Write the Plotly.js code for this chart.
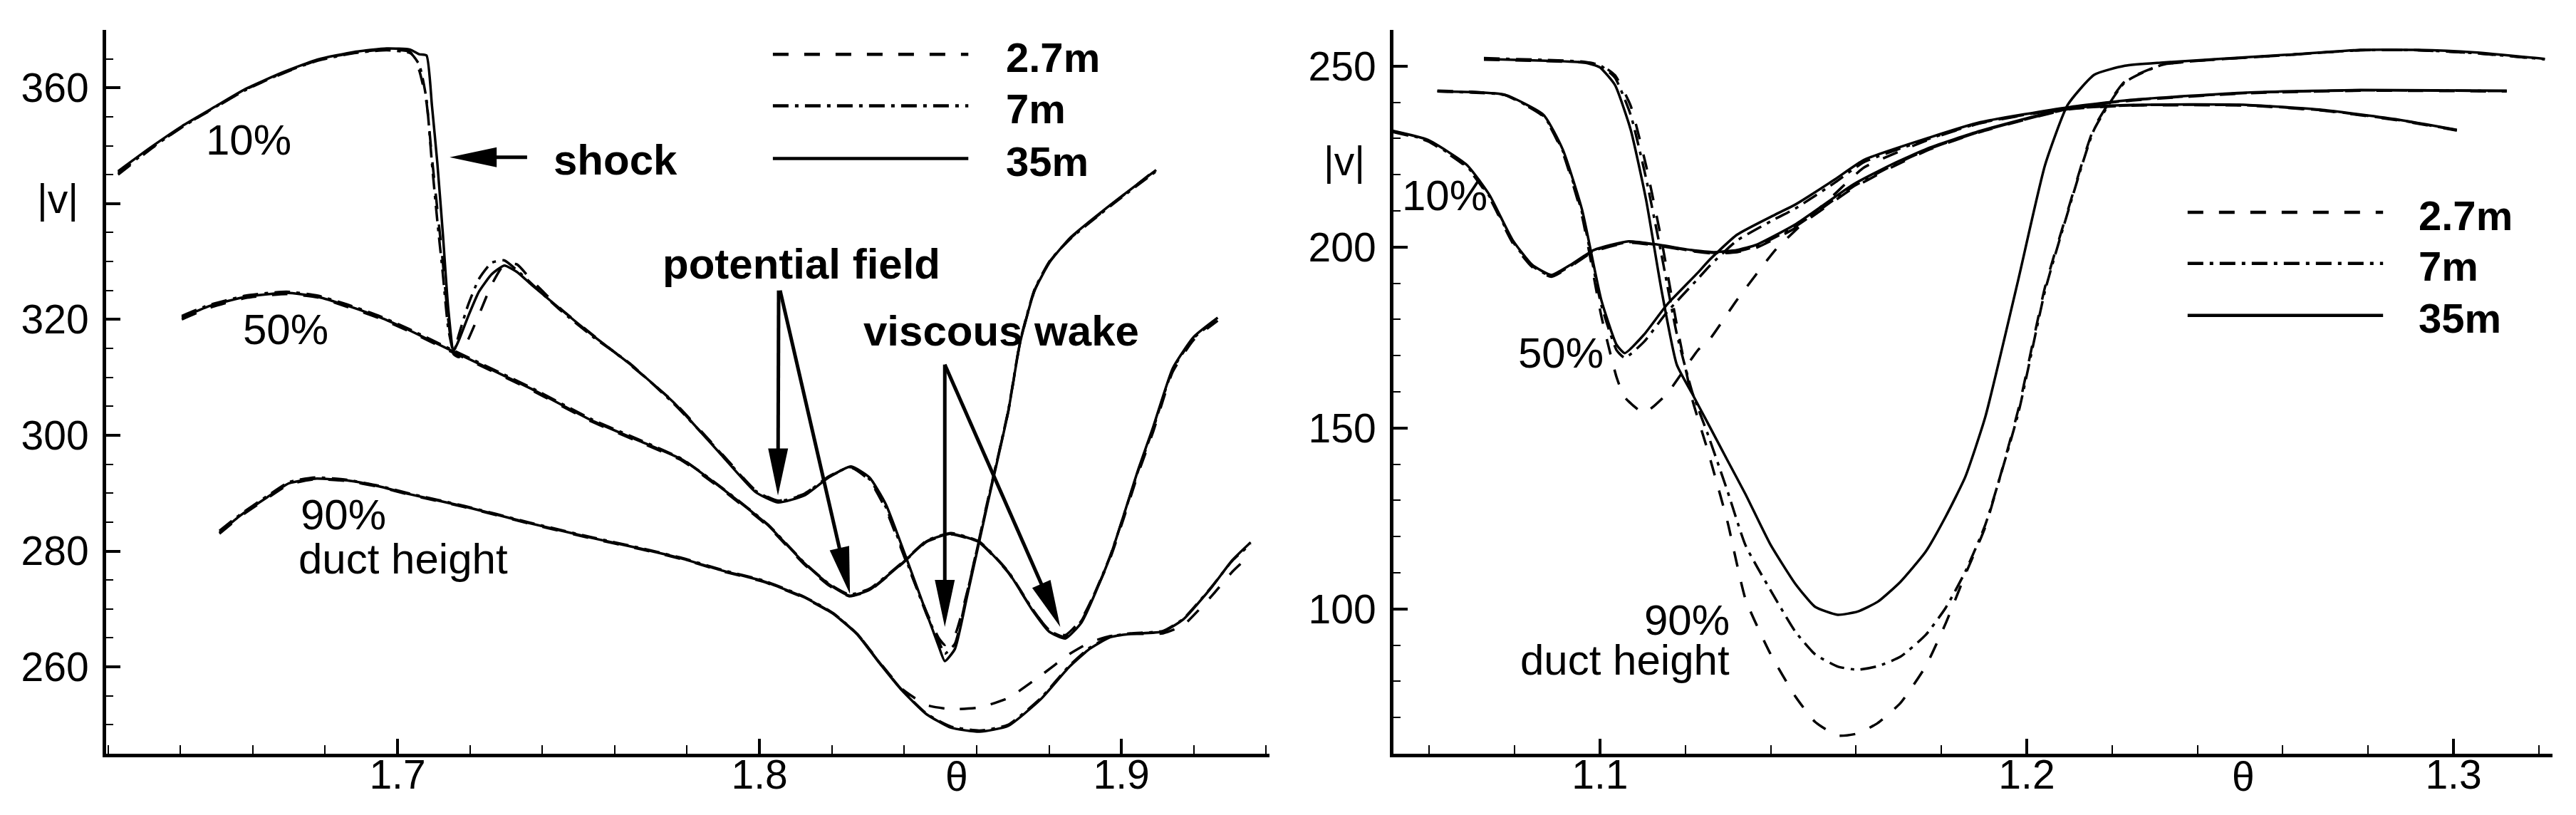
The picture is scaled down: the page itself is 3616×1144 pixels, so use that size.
<!DOCTYPE html>
<html>
<head>
<meta charset="utf-8">
<script src="https://cdn.plot.ly/plotly-3.0.1.min.js"></script>
<style>html,body{margin:0;padding:0;background:#fff;}#chart{width:3616px;height:1144px;}</style>
</head>
<body>
<div id="chart"></div>
<script>
// ---------------- LEFT PANEL DATA (theta, |v|) ----------------
const thL10 = [1.6228,1.632,1.641,1.650,1.658,1.668,1.678,1.688,1.697,1.7035,1.706,1.708,1.7095,1.711,1.7125,1.714,1.7155,1.717,1.7195,1.7225,1.726,1.7295,1.733,1.737,1.745,1.754,1.7642,1.7764,1.7899,1.7989,1.8051,1.8124,1.8191,1.8253,1.8304,1.8349,1.8405,1.8462,1.8495,1.8512,1.854,1.8574,1.863,1.8687,1.872,1.876,1.8803,1.886,1.8972,1.9096];
const vL10_35 = [345.6,349.8,353.6,356.9,359.8,362.6,364.9,366.2,366.8,366.6,365.8,365.6,357,347,335,322,314.6,316.5,320.5,324.8,327.8,329.3,328.2,326,321.8,317.2,312.3,305.6,296.3,290.2,288.4,289.6,292.7,294.6,292.7,288.1,278.9,269.2,263.6,261.0,263.1,272.3,288.1,304,316,325,330,334.2,339.9,345.8];
const vL10_7 = [345.3,349.6,353.4,356.8,359.6,362.5,364.7,366.0,366.5,366.0,364.0,358.0,347.0,337.0,328.0,318.5,314.4,317.5,322.5,327.0,329.8,330.2,328.5,326.2,321.6,317.0,312.4,305.4,296.5,290.4,288.6,289.8,292.9,294.5,292.4,287.6,278.5,269.0,264.5,262.3,264.0,272.8,288.4,304.2,316.2,325.2,330.2,334.0,339.7,345.6];
const vL10_27 = [345.0,349.5,353.5,356.7,359.7,362.4,364.8,366.1,366.6,366.2,363.0,357.5,348.0,339.0,330.0,320.0,314.0,313.5,316.5,320.8,326.0,329.5,329.5,326.8,321.9,317.3,312.2,305.7,296.6,290.5,288.7,289.9,292.8,294.4,292.2,287.2,278.2,269.4,265.0,263.8,265.5,273.0,288.6,304.0,316.0,325.0,330.1,334.1,339.8,345.9];

const thL50 = [1.6404,1.648,1.658,1.6693,1.678,1.686,1.695,1.703,1.7156,1.737,1.7535,1.7673,1.7786,1.7899,1.8023,1.8124,1.8191,1.8248,1.8304,1.8394,1.8462,1.8529,1.8608,1.8687,1.8755,1.88,1.8845,1.889,1.8968,1.9047,1.9087,1.9142,1.92,1.9266];
const vL50_35 = [320.3,322.3,323.9,324.6,323.9,322.4,320.4,318.2,314.4,308.0,302.6,298.9,295.8,290.7,284.5,277.9,274.3,272.3,273.3,277.9,281.7,283.0,281.5,276.4,269.7,266.1,264.9,267.7,278.9,294.2,301.3,311.6,317.0,320.3];
const vL50_7 = [320.6,322.5,324.1,324.8,324.1,322.6,320.6,318.4,314.6,308.2,302.8,299.1,295.9,290.8,284.6,278.0,274.4,272.5,273.5,278.0,281.8,283.1,281.6,276.5,269.9,266.3,265.2,268.0,279.0,294.0,301.0,311.4,316.8,320.1];
const vL50_27 = [320.0,322.0,323.7,324.4,323.8,322.2,320.2,318.0,314.2,307.8,302.4,298.7,295.6,290.5,284.3,277.7,274.1,272.2,273.2,277.8,281.6,282.9,281.4,276.3,269.8,266.4,265.5,268.3,278.6,293.5,300.5,311.0,316.5,319.8];

const thL90 = [1.6508,1.6569,1.664,1.670,1.6772,1.686,1.6947,1.7035,1.7185,1.736,1.7535,1.7673,1.7786,1.7899,1.8011,1.8124,1.8203,1.827,1.8327,1.8394,1.8462,1.8529,1.8608,1.8687,1.8777,1.8856,1.8912,1.8968,1.9025,1.9115,1.9171,1.925,1.9306,1.9357];
const vL90_35 = [283.2,286.3,289.3,291.7,292.5,292.2,291.2,289.8,287.7,284.9,282.3,280.4,278.7,276.6,274.8,272.0,269.2,265.6,261.0,255.9,251.8,249.5,248.8,249.8,254.4,260.0,263.1,265.1,265.7,266.1,268.2,273.8,278.4,281.5];
const vL90_7 = [283.5,286.5,289.5,291.9,292.7,292.3,291.3,289.9,287.8,285.0,282.4,280.5,278.8,276.7,274.9,272.1,269.3,265.7,261.1,256.0,251.9,249.7,249.0,250.0,254.6,260.2,263.3,265.2,265.8,266.2,268.3,273.9,278.3,281.2];
const vL90_27 = [283.0,286.1,289.1,291.5,292.4,292.1,291.1,289.7,287.6,284.8,282.2,280.3,278.6,276.5,274.7,271.9,269.2,265.7,261.2,256.2,253.4,252.7,253.0,254.6,258.5,262.2,264.2,265.3,265.7,265.8,267.2,272.3,276.4,279.4];

// ---------------- RIGHT PANEL DATA ----------------
const thR10 = [1.0515,1.0597,1.0688,1.0741,1.0795,1.0841,1.0886,1.0931,1.0986,1.1067,1.114,1.1212,1.1266,1.1321,1.1366,1.1457,1.1592,1.1683,1.1773,1.1891,1.2096,1.2248,1.2515,1.2693,1.2871,1.3008];
const vR10_35 = [232.1,229.6,222.7,214.4,202.0,195.1,192.3,195.1,199.2,201.6,200.6,199.2,198.6,199.2,200.6,206.2,217.2,222.8,227.5,232.1,238.3,239.3,239.3,237.9,235.2,232.4];
const vR10_7 = [232.0,229.4,222.3,214.0,201.6,194.8,192.0,194.8,199.0,201.4,200.5,199.0,198.4,198.8,200.2,205.6,216.6,222.4,227.2,231.9,238.1,239.2,239.2,237.8,235.1,232.3];
const vR10_27 = [231.8,229.2,222.0,213.6,201.2,194.5,191.8,194.6,198.8,201.2,200.3,198.9,198.2,198.6,199.8,205.2,216.2,222.0,227.0,231.8,238.0,239.1,239.1,237.7,235.0,232.2];

const thR50 = [1.0619,1.07,1.0777,1.0868,1.0913,1.0958,1.1003,1.1039,1.1058,1.1103,1.1157,1.123,1.1257,1.1321,1.1411,1.1457,1.1548,1.1619,1.1773,1.1891,1.2096,1.2248,1.2515,1.2782,1.3125];
const vR50_35 = [243.0,242.8,242.1,236.5,226.9,210.3,185.4,173.0,170.7,175.8,184.1,193.0,196.5,203.4,209.0,211.7,218.5,224.1,230.3,234.5,238.6,240.7,242.7,243.4,243.2];
const vR50_7 = [243.0,242.7,242.0,236.2,226.5,209.5,184.0,171.5,169.4,173.8,182.0,191.3,194.8,201.8,207.8,210.6,217.6,223.5,230.0,234.3,238.5,240.6,242.6,243.3,243.1];
const vR50_27 = [243.2,242.9,242.0,236.0,226.0,208.5,181.0,164.0,158.5,154.2,159.5,171.6,174.5,185.4,199.2,204.5,214.4,222.0,229.8,234.2,238.4,240.5,242.5,243.2,243.0];

const thR90 = [1.0728,1.0873,1.0963,1.0999,1.1035,1.1072,1.1108,1.1144,1.118,1.1216,1.1252,1.1299,1.1341,1.1399,1.1458,1.1504,1.1557,1.1604,1.1651,1.1704,1.1763,1.181,1.1856,1.1903,1.198,1.2043,1.2096,1.2158,1.223,1.2319,1.2604,1.2782,1.2915,1.3049,1.3214];
const vR90_35 = [252.0,251.5,251.0,249.7,244.8,232.4,213.1,188.2,167.5,159.5,151.5,141.0,131.7,117.9,106.9,100.6,98.4,99.3,102.0,107.5,115.8,125.5,136.5,153.1,190.9,222.7,239.3,247.6,250.1,251.0,253.1,254.5,254.5,253.8,252.0];
const vR90_7 = [252.2,251.7,251.2,250.3,246.8,236.5,219.0,198.0,176.0,160.0,148.5,132.5,117.6,105.3,93.7,87.5,84.1,83.2,84.2,86.8,92.8,100.3,110.3,123.3,154.0,188.0,209.5,232.5,245.5,250.4,253.0,254.4,254.4,253.6,251.9];
const vR90_27 = [251.8,251.4,251.0,250.5,247.5,239.0,222.5,202.0,178.5,158.0,144.0,124.0,102.7,87.7,75.8,68.8,65.0,65.6,68.5,74.0,84.1,96.0,109.5,122.7,155.0,189.0,210.0,233.0,245.8,250.4,253.0,254.4,254.4,253.6,251.9];

// ---------------- LABELS ----------------
const seriesNames = ['2.7m','7m','35m'];
const leftYTicks = [260,280,300,320,340,360];
const leftYTickText = ['260','280','300','320','','360'];
const rightYTicks = [100,150,200,250];
const leftXTicks = [1.7,1.8,1.9];
const rightXTicks = [1.1,1.2,1.3];
const heightLabels = ['10%','50%','90%','duct height'];
const featureLabels = ['shock','potential field','viscous wake'];
const axisTitleX = 'θ';
const axisTitleY = '|v|';

// ---------------- GEOMETRY ----------------
const W = 3616, H = 1144;
const TOP = 42, BOT = 1058;
const LX = [149, 1782], RX = [1956, 3583];
const LXR = [1.6195, 1.9409], RXR = [1.0516, 1.3232];
const LYR = [245, 370], RYR = [60, 260];
const FONT = 'Liberation Sans, Arial, Helvetica, sans-serif';

const dashStyles = {'2.7m': '22px,22px', '7m': '22px,9px,5px,9px', '35m': 'solid'};

function tr(x, y, name, xa, ya) {
  return {x: x, y: y, xaxis: xa, yaxis: ya, type: 'scatter', mode: 'lines', name: name,
    line: {color: '#000', width: 3.5, dash: dashStyles[name], shape: 'spline', smoothing: 0.5},
    hoverinfo: 'skip', showlegend: false};
}

const traces = [
  tr(thL10, vL10_27, '2.7m', 'x', 'y'), tr(thL10, vL10_7, '7m', 'x', 'y'), tr(thL10, vL10_35, '35m', 'x', 'y'),
  tr(thL50, vL50_27, '2.7m', 'x', 'y'), tr(thL50, vL50_7, '7m', 'x', 'y'), tr(thL50, vL50_35, '35m', 'x', 'y'),
  tr(thL90, vL90_27, '2.7m', 'x', 'y'), tr(thL90, vL90_7, '7m', 'x', 'y'), tr(thL90, vL90_35, '35m', 'x', 'y'),
  tr(thR10, vR10_27, '2.7m', 'x2', 'y2'), tr(thR10, vR10_7, '7m', 'x2', 'y2'), tr(thR10, vR10_35, '35m', 'x2', 'y2'),
  tr(thR50, vR50_27, '2.7m', 'x2', 'y2'), tr(thR50, vR50_7, '7m', 'x2', 'y2'), tr(thR50, vR50_35, '35m', 'x2', 'y2'),
  tr(thR90, vR90_27, '2.7m', 'x2', 'y2'), tr(thR90, vR90_7, '7m', 'x2', 'y2'), tr(thR90, vR90_35, '35m', 'x2', 'y2')
];

function xaxisCfg(domainPx, range, ticks, minor0) {
  return {domain: [domainPx[0]/W, domainPx[1]/W], range: range, tickmode: 'array', tickvals: ticks,
    ticktext: ticks.map(t => t.toFixed(1)), ticks: 'inside', ticklen: 21, tickwidth: 4, tickcolor: '#000',
    showline: true, linewidth: 5, linecolor: '#000', showgrid: false, zeroline: false,
    tickfont: {family: FONT, size: 57, color: '#000'}, ticklabelstandoff: -24,
    minor: {tickmode: 'linear', tick0: minor0, dtick: 0.02, ticks: 'inside', ticklen: 12, tickwidth: 2, tickcolor: '#000', showgrid: false},
    fixedrange: true};
}
function yaxisCfg(range, tickvals, ticktext, minorD, anchor) {
  return {domain: [1 - BOT/H, 1 - TOP/H], range: range, anchor: anchor, tickmode: 'array', tickvals: tickvals,
    ticktext: ticktext, ticks: 'inside', ticklen: 20, tickwidth: 4, tickcolor: '#000',
    showline: true, linewidth: 5, linecolor: '#000', showgrid: false, zeroline: false,
    tickfont: {family: FONT, size: 57, color: '#000'}, ticklabelstandoff: 8,
    minor: {tickmode: 'linear', tick0: 0, dtick: minorD, ticks: 'inside', ticklen: 10, tickwidth: 2, tickcolor: '#000', showgrid: false},
    fixedrange: true};
}

// pixel helpers for arrow glyphs
function px(panel, t, v) {
  const X = panel === 'L' ? LX : RX, XR = panel === 'L' ? LXR : RXR, YR = panel === 'L' ? LYR : RYR;
  return [X[0] + (t - XR[0]) / (XR[1] - XR[0]) * (X[1] - X[0]), BOT - (v - YR[0]) / (YR[1] - YR[0]) * (BOT - TOP)];
}
function arrowShapes(panel, tail, tip) {
  const a = px(panel, tail[0], tail[1]), b = px(panel, tip[0], tip[1]);
  const dx = b[0] - a[0], dy = b[1] - a[1], L = Math.hypot(dx, dy), ux = dx / L, uy = dy / L;
  const hl = 66, hw = 14;
  const base = [b[0] - ux * hl, b[1] - uy * hl];
  const p1 = [base[0] - uy * hw, base[1] + ux * hw], p2 = [base[0] + uy * hw, base[1] - ux * hw];
  const P = p => (p[0] / W).toFixed(6) + ',' + (1 - p[1] / H).toFixed(6);
  return [
    {type: 'line', xref: 'paper', yref: 'paper', x0: a[0] / W, y0: 1 - a[1] / H, x1: (base[0] + ux * 4) / W, y1: 1 - (base[1] + uy * 4) / H, line: {color: '#000', width: 5}},
    {type: 'path', xref: 'paper', yref: 'paper', path: 'M' + P(b) + ' L' + P(p1) + ' L' + P(p2) + ' Z', fillcolor: '#000', line: {width: 0}}
  ];
}

let shapes = [];
shapes = shapes.concat(arrowShapes('L', [1.7358, 348.0], [1.7144, 348.0]));
shapes = shapes.concat(arrowShapes('L', [1.8053, 325.0], [1.8051, 289.6]));
shapes = shapes.concat(arrowShapes('L', [1.8057, 325.0], [1.8250, 272.6]));
shapes = shapes.concat(arrowShapes('L', [1.8512, 312.2], [1.8512, 266.9]));
shapes = shapes.concat(arrowShapes('L', [1.8512, 312.2], [1.8831, 266.9]));

// legend sample lines
const legL = {x0: 1.8037, x1: 1.8577, ys: [365.8, 356.9, 347.8], tx: 1.8677};
const legR = {x0: 1.2377, x1: 1.2835, ys: [209.6, 195.5, 181.1], tx: 1.2915};
[[legL, 'x', 'y'], [legR, 'x2', 'y2']].forEach(([lg, xr, yr]) => {
  seriesNames.forEach((n, i) => {
    shapes.push({type: 'line', xref: xr, yref: yr, x0: lg.x0, x1: lg.x1, y0: lg.ys[i], y1: lg.ys[i],
      line: {color: '#000', width: 4.5, dash: dashStyles[n]}});
  });
});

function ann(text, x, y, xr, yr, xanchor, bold, size) {
  return {text: bold ? '<b>' + text + '</b>' : text, x: x, y: y, xref: xr, yref: yr, xanchor: xanchor, yanchor: 'middle',
    showarrow: false, font: {family: FONT, size: size || 58, color: '#000'}};
}
const annotations = [
  ann(heightLabels[0], 1.6467, 351.0, 'x', 'y', 'left', false, 60),
  ann(heightLabels[1], 1.6569, 318.3, 'x', 'y', 'left', false, 60),
  ann(heightLabels[2], 1.6728, 286.3, 'x', 'y', 'left', false, 60),
  ann(heightLabels[3], 1.6722, 278.6, 'x', 'y', 'left', false, 60),
  ann(featureLabels[0], 1.7427, 347.6, 'x', 'y', 'left', true, 60),
  ann(featureLabels[1], 1.7728, 329.6, 'x', 'y', 'left', true, 60),
  ann(featureLabels[2], 1.8283, 318.0, 'x', 'y', 'left', true, 60),
  ann(heightLabels[0], 1.0533, 214.2, 'x2', 'y2', 'left', false, 60),
  ann(heightLabels[1], 1.0805, 170.7, 'x2', 'y2', 'left', false, 60),
  ann(heightLabels[2], 1.1307, 97.0, 'x2', 'y2', 'right', false, 60),
  ann(heightLabels[3], 1.1307, 85.8, 'x2', 'y2', 'right', false, 60),
  ann(axisTitleX, 1.8545, 1 - 1090 / H, 'x', 'paper', 'center', false, 57),
  ann(axisTitleX, 1.2507, 1 - 1090 / H, 'x2', 'paper', 'center', false, 57),
  ann(axisTitleY, 81 / W, 1 - 279 / H, 'paper', 'paper', 'center', false, 57),
  ann(axisTitleY, 1887 / W, 1 - 226 / H, 'paper', 'paper', 'center', false, 57)
];
seriesNames.forEach((n, i) => {
  annotations.push(ann(n, legL.tx, legL.ys[i] - 0.5, 'x', 'y', 'left', true, 58));
  annotations.push(ann(n, legR.tx, legR.ys[i] - 0.8, 'x2', 'y2', 'left', true, 58));
});

const layout = {
  width: W, height: H, margin: {l: 0, r: 0, t: 0, b: 0, pad: 0},
  paper_bgcolor: '#fff', plot_bgcolor: 'rgba(0,0,0,0)', showlegend: false,
  font: {family: FONT, color: '#000'},
  xaxis: xaxisCfg(LX, LXR, leftXTicks, 1.62),
  yaxis: yaxisCfg(LYR, leftYTicks, leftYTickText, 5, 'x'),
  xaxis2: Object.assign(xaxisCfg(RX, RXR, rightXTicks, 1.06), {anchor: 'y2'}),
  yaxis2: yaxisCfg(RYR, rightYTicks, rightYTicks.map(String), 10, 'x2'),
  shapes: shapes, annotations: annotations
};
layout.xaxis.anchor = 'y';

Plotly.newPlot('chart', traces, layout, {staticPlot: true, displayModeBar: false});
</script>
</body>
</html>
